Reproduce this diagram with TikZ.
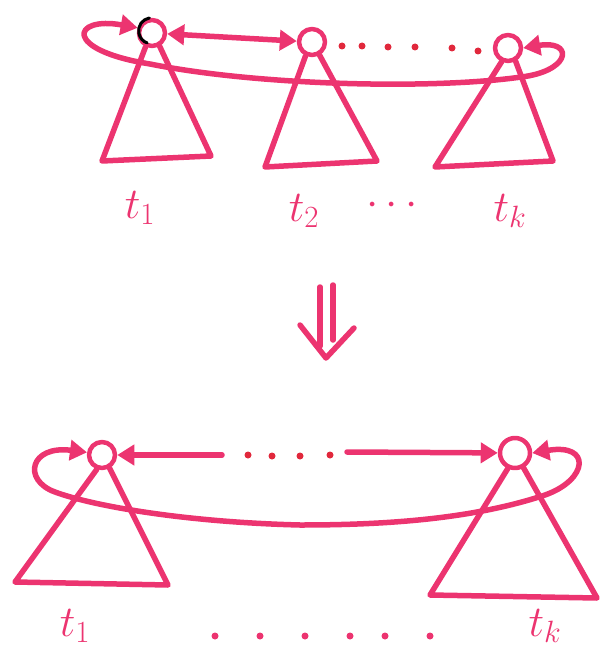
\RequirePackage{fix-cm}
\documentclass[tikz,border=0pt]{standalone}
\usetikzlibrary{arrows.meta}
\definecolor{pk}{RGB}{236,52,112}
\definecolor{dotred}{RGB}{225,40,60}
\begin{document}
\begin{tikzpicture}[x=1pt,y=-1pt,line width=5.5pt,line cap=round,line join=round,draw=pk,
  root/.style={circle,draw=pk,line width=4.5pt,minimum size=26pt,inner sep=0pt},
  link/.style={{Triangle[length=17pt,width=20pt]}-{Triangle[length=17pt,width=20pt]}},
  linkl/.style={{Triangle[length=17pt,width=20pt]}-},
  linkr/.style={-{Triangle[length=17pt,width=20pt]}},
  lab/.style={text=pk,font=\fontsize{44}{52}\selectfont,inner sep=0pt},
  dot/.style={circle,fill=dotred,draw=none,minimum size=7pt,inner sep=0pt}]
\useasboundingbox (0,0) rectangle (603,663);
% ---------- top row ----------
\node[root] (r1) at (152,33) {};
\node[root] (r2) at (312,42) {};
\node[root] (rk) at (508,48) {};
\draw[black,line width=3pt] (r1.100) arc[start angle=100,end angle=250,radius=13pt];
\draw (r1.-115) -- (102,161) -- (211,156) -- (r1.-60);
\draw (r2.-115) -- (265,167) -- (377,161) -- (r2.-60);
\draw (rk.-115) -- (435,167) -- (553,161) -- (rk.-60);
\draw[link] (r1) -- (r2);
\foreach \x/\y in {342/46,362/46,388/47,415/47,452/48,478/51} \node[dot] at (\x,\y) {};
\draw[link] (rk.east) .. controls (572,40) and (572,68) .. (528,76)
  .. controls (440,90) and (260,86) .. (150,64)
  .. controls (62,50) and (72,16) .. (r1.160);
\node[lab] (t1) at (140,208) {$t_1$};
\node[lab] (t2) at (304,211) {$t_2$};
\node[lab] (td) at (392,206) {$\cdots$};
\node[lab] (tk) at (510,211) {$t_k$};
% ---------- double arrow ----------
\draw (320,287) -- (320,346);
\draw (333,285) -- (333,340);
\draw (300,325) -- (326,358) -- (354,328);
% ---------- bottom row ----------
\node[root] (b1) at (102,455) {};
\node[root,minimum size=30pt] (bk) at (515,453) {};
\draw (b1.-110) -- (15,582) -- (168,585) -- (b1.-60);
\draw (bk.-115) -- (430,595) -- (597,598) -- (bk.-60);
\coordinate (c1) at (222,455);
\coordinate (c2) at (347,452);
\draw[linkl] (b1) -- (c1);
\foreach \x/\y in {248/455,272/456,300/456,330/455} \node[dot] at (\x,\y) {};
\draw[linkr] (c2) -- (bk);
\draw[link] (bk.east) .. controls (592,443) and (588,480) .. (545,495)
  .. controls (470,520) and (380,525) .. (300,525)
  .. controls (180,522) and (90,505) .. (55,492)
  .. controls (22,480) and (30,445) .. (b1.170);
\node[lab] (u1) at (75,626) {$t_1$};
\foreach \x in {215,260,305,350,385,430} \node[dot,fill=pk] at (\x,636) {};
\node[lab] (uk) at (545,626) {$t_k$};
\end{tikzpicture}
\end{document}
